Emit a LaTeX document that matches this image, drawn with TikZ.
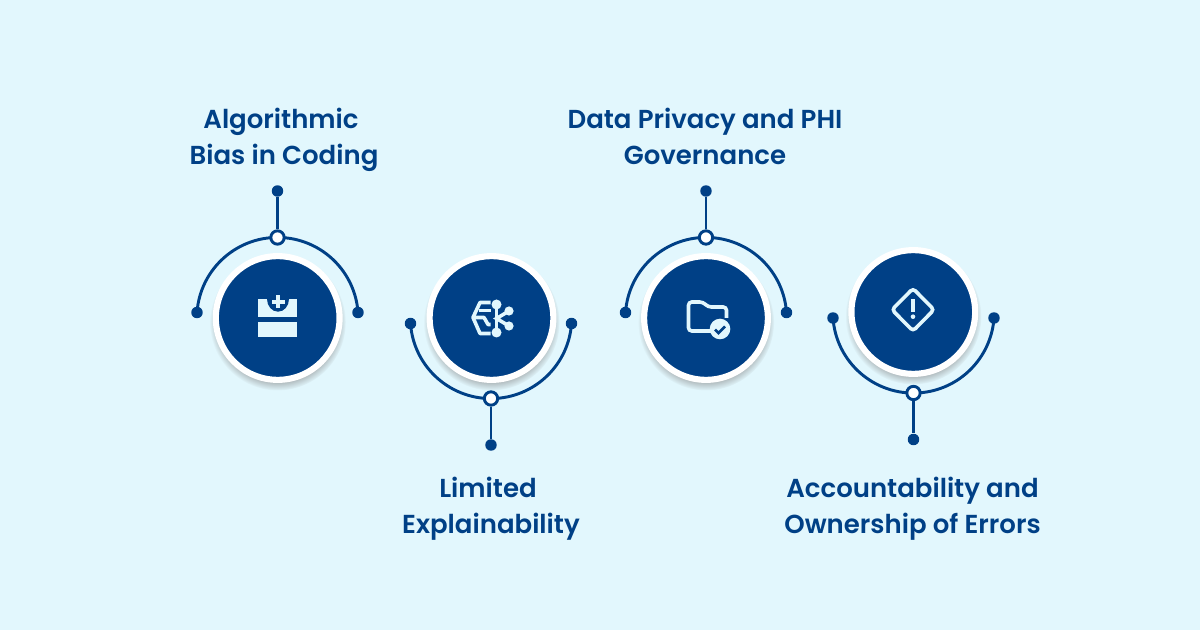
\documentclass[tikz,border=0pt]{standalone}
\usepackage{fontspec}
\setmainfont{Poppins SemiBold}
\usetikzlibrary{shadows}
\definecolor{navy}{HTML}{004086}
\definecolor{pale}{HTML}{E2F7FD}
\tikzset{
    link line/.style={
        draw=navy,
        line width=2.2pt,
    },
    icon line/.style={
        draw=pale,
        line width=2.7pt,
    },
    end dot/.style={
        fill=navy,
        circle,
        minimum size=8.6pt,
        inner sep=0,
    },
    pin dot/.style={
        draw=navy,
        fill=white,
        circle,
        line width=2.2pt,
        minimum size=10pt,
        inner sep=0,
    },
    hub disc/.style={
        draw=white,
        fill=navy,
        circle,
        line width=4.6pt,
        minimum size=92.8pt,
        inner sep=0,
        circular drop shadow={shadow xshift=0pt, shadow yshift=-3pt, shadow scale=1.1, opacity=0.6},
    },
    heading/.style={
        text=navy,
        font=\fontsize{19.5pt}{27pt}\selectfont,
        align=center,
        inner sep=0,
    },
}
\begin{document}
\begin{tikzpicture}[x=0.75pt, y=-0.75pt]

    \fill[pale] (0, 0) rectangle (1200, 630);
    \useasboundingbox (0, 0) rectangle (1200, 630);

    \foreach \i/\hx/\hy/\cx/\cy/\sy in {1/277.7/318/277.5/318/-1, 2/491.5/318/491/318/1, 3/706/318/706/318/-1, 4/913.3/312/913.5/312.5/1}
    {
        \node[hub disc] (hub\i) at (\hx, \hy) {};
        \node[end dot] (dotl\i) at (\cx-80.5, \cy+\sy*5.5) {};
        \node[end dot] (dotr\i) at (\cx+80.5, \cy+\sy*5.5) {};
        \draw[link line] (dotl\i.center) arc[start angle={180-\sy*4}, delta angle={-\sy*172}, radius=80.7];
        \node[pin dot] (pin\i) at (\cx, \cy+\sy*80.5) {};
        \node[end dot] (tip\i) at (\cx, \cy+\sy*127) {};
        \draw[link line] (pin\i) -- (tip\i);
    }

    \node[heading] (title1) at (284, 140) {Algorithmic\hspace*{4.5pt}\\Bias in Coding};
    \node[heading] (title2) at (491, 509) {Limited\hspace*{4.5pt}\\Explainability};
    \node[heading] (title3) at (705, 136) {Data Privacy and PHI\\Governance};
    \node[heading] (title4) at (912.5, 509) {Accountability and\\Ownership of Errors};

    % first icon
    \fill[pale] (258.3, 299.3) rectangle (297.3, 316.7);
    \fill[pale] (258.3, 321.7) rectangle (297.3, 337.3);
    \fill[navy] (267, 299) arc[start angle=180, end angle=0, x radius=11, y radius=12.7] -- cycle;
    \fill[pale] (275.9, 295) rectangle (280.1, 308);
    \fill[pale] (271.5, 299.6) rectangle (284.5, 303.8);

    % second icon
    \draw[icon line, line join=round] (490.5, 302.5) -- (480, 302.5) -- (473, 317.5) -- (480, 333.5) -- (490.5, 333.5);
    \draw[icon line, line join=round] (490.5, 310.5) -- (479, 310.5);
    \draw[icon line, line join=round] (473, 317.5) -- (484, 317.5) -- (488, 324.5) -- (490.5, 324.5);
    \draw[icon line] (496.5, 304.5) -- (496.5, 332.5);
    \draw[icon line] (509, 311) -- (496.5, 318.5) -- (509, 326);
    \foreach \nx/\ny/\nr in {496.5/304.5/5, 496.5/332.5/5, 509/311/4.6, 509/326/4.6}
    {
        \fill[pale] (\nx, \ny) circle[radius=\nr];
    }

    % third icon
    \draw[icon line, rounded corners=2.5pt] (712, 331) -- (688.5, 331) -- (688.5, 302) -- (703, 302) -- (708, 307) -- (726.5, 307) -- (726.5, 318);
    \fill[pale] (720, 329) circle[radius=10.3];
    \draw[draw=navy, line width=2pt] (715, 329.5) -- (718.5, 333) -- (725, 326.5);

    % fourth icon
    \draw[icon line, rounded corners=2.5pt] (913, 288.5) -- (934, 309.7) -- (913, 331) -- (892, 309.7) -- cycle;
    \draw[draw=pale, line width=2.8pt] (913, 299.3) -- (913, 311.7);
    \fill[pale] (913, 316.7) circle[radius=2.3];

\end{tikzpicture}
\end{document}
